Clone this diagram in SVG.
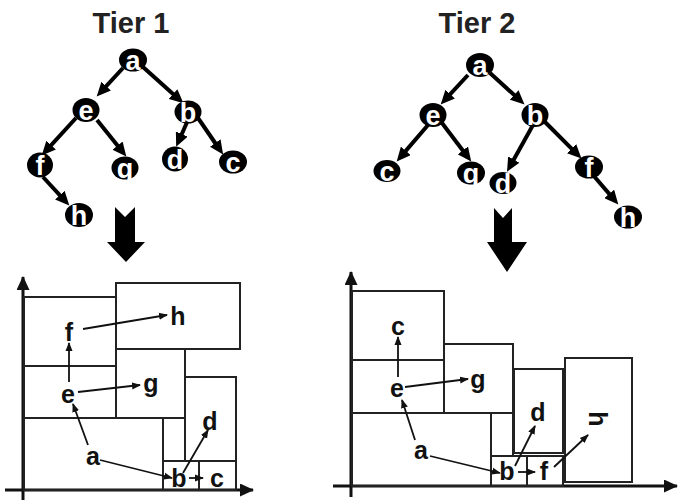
<svg xmlns="http://www.w3.org/2000/svg" width="678" height="503" viewBox="0 0 678 503">
<defs>
<marker id="ta" markerUnits="userSpaceOnUse" markerWidth="15" markerHeight="13" refX="6" refY="6.5" orient="auto"><path d="M0,0 L14,6.5 L0,13 z" fill="#000"/></marker>
<marker id="sa" markerUnits="userSpaceOnUse" markerWidth="9" markerHeight="8" refX="8" refY="4" orient="auto"><path d="M0,0.5 L9,4 L0,7.5 z" fill="#111"/></marker>
<marker id="ax" markerUnits="userSpaceOnUse" markerWidth="14" markerHeight="13" refX="13" refY="6.5" orient="auto"><path d="M0,0 L14,6.5 L0,13 z" fill="#111"/></marker>
</defs>
<style>
.title{font-family:"Liberation Sans",Arial,sans-serif;font-weight:bold;font-size:29px;fill:#222;text-anchor:middle}
.nd ellipse{fill:#000}
.nd text{font-family:"Liberation Sans",Arial,sans-serif;font-weight:bold;font-size:27px;fill:#fff;text-anchor:middle}
.te{stroke:#000;stroke-width:4;fill:none;marker-end:url(#ta)}
.ce{stroke:#111;stroke-width:1.8;fill:none;marker-end:url(#sa)}
.axis{stroke:#111;stroke-width:3;fill:none;marker-end:url(#ax)}
.box{fill:none;stroke:#222;stroke-width:2}
.lbl{font-family:"Liberation Sans",Arial,sans-serif;font-weight:bold;font-size:25px;fill:#111;text-anchor:middle}
.big{fill:#000}
</style>
<rect width="678" height="503" fill="#fff"/>
<text class="title" x="131" y="33">Tier 1</text>
<text class="title" x="477" y="33">Tier 2</text>

<g id="connectors">
<line class="te" x1="123" y1="68" x2="102.1" y2="90.6"/>
<line class="te" x1="143" y1="67" x2="177.5" y2="98"/>
<line class="te" x1="76" y1="118" x2="47.1" y2="149.6"/>
<line class="te" x1="97" y1="120" x2="121.3" y2="150.3"/>
<line class="te" x1="188" y1="120" x2="179.4" y2="139.5"/>
<line class="te" x1="198" y1="118" x2="218.6" y2="148"/>
<line class="te" x1="43" y1="177" x2="63.9" y2="199.6"/>
<line class="te" x1="468" y1="75" x2="446.1" y2="98.6"/>
<line class="te" x1="490" y1="73" x2="518.6" y2="99"/>
<line class="te" x1="428" y1="125" x2="401.9" y2="155.4"/>
<line class="te" x1="442" y1="123" x2="466.4" y2="155.2"/>
<line class="te" x1="533" y1="125" x2="510.9" y2="164.8"/>
<line class="te" x1="545" y1="122" x2="575.8" y2="152.8"/>
<line class="te" x1="593" y1="175" x2="613.1" y2="198.4"/>
</g>

<g id="tier1-tree">
<g id="t1-a" class="nd"><ellipse cx="133" cy="60" rx="14" ry="11.5"/><text x="133" y="70">a</text></g>
<g id="t1-e" class="nd"><ellipse cx="86" cy="110" rx="13.5" ry="12"/><text x="86" y="120">e</text></g>
<g id="t1-b" class="nd"><ellipse cx="188" cy="112" rx="13.5" ry="11.5"/><text x="188" y="122">b</text></g>
<g id="t1-f" class="nd"><ellipse cx="40" cy="165" rx="13" ry="12.5"/><text x="40" y="175">f</text></g>
<g id="t1-g" class="nd"><ellipse cx="125" cy="168" rx="13.5" ry="11.5"/><text x="125" y="178">g</text></g>
<g id="t1-d" class="nd"><ellipse cx="175" cy="159" rx="13" ry="12.5"/><text x="175" y="169">d</text></g>
<g id="t1-c" class="nd"><ellipse cx="233" cy="162" rx="14" ry="11.5"/><text x="233" y="172">c</text></g>
<g id="t1-h" class="nd"><ellipse cx="79" cy="215" rx="14" ry="12"/><text x="79" y="225">h</text></g>
</g>

<g id="tier2-tree">
<g id="t2-a" class="nd"><ellipse cx="480" cy="65" rx="14" ry="12"/><text x="480" y="75">a</text></g>
<g id="t2-e" class="nd"><ellipse cx="433" cy="115" rx="13.5" ry="12"/><text x="433" y="125">e</text></g>
<g id="t2-b" class="nd"><ellipse cx="535" cy="115" rx="13.5" ry="12"/><text x="535" y="125">b</text></g>
<g id="t2-c" class="nd"><ellipse cx="387" cy="171" rx="13.5" ry="11"/><text x="387" y="181">c</text></g>
<g id="t2-g" class="nd"><ellipse cx="471" cy="173" rx="14" ry="11.5"/><text x="471" y="183">g</text></g>
<g id="t2-d" class="nd"><ellipse cx="503" cy="183" rx="13.5" ry="11"/><text x="503" y="193">d</text></g>
<g id="t2-f" class="nd"><ellipse cx="589" cy="167" rx="14" ry="11.5"/><text x="589" y="177">f</text></g>
<g id="t2-h" class="nd"><ellipse cx="628" cy="217" rx="14" ry="11.5"/><text x="628" y="227">h</text></g>
</g>

<g id="block-arrows">
<polygon class="big" points="115,207 125,217 135,207 135,242 145,242 126,262 107,242 115,242"/>
<polygon class="big" points="494,208 503,218 512,208 512,242 527,242 507,272 487,242 494,242"/>
</g>

<g id="chart1">
<line class="axis" x1="23" y1="500" x2="23" y2="277"/>
<line class="axis" x1="5" y1="490" x2="253" y2="490"/>
<rect class="box" x="116" y="283" width="124" height="66"/>
<rect class="box" x="24" y="297" width="92" height="69"/>
<rect class="box" x="24" y="366" width="92" height="52"/>
<rect class="box" x="116" y="349" width="69" height="69"/>
<rect class="box" x="24" y="418" width="139" height="72"/>
<rect class="box" x="163" y="418" width="22" height="43"/>
<rect class="box" x="185" y="377" width="51" height="84"/>
<rect class="box" x="163" y="461" width="36" height="29"/>
<rect class="box" x="199" y="461" width="37" height="29"/>
<line class="ce" x1="69" y1="382" x2="69" y2="343"/>
<line class="ce" x1="83" y1="329" x2="167" y2="315"/>
<line class="ce" x1="78" y1="392" x2="140" y2="385"/>
<line class="ce" x1="88" y1="445" x2="73" y2="404"/>
<line class="ce" x1="100" y1="460" x2="172" y2="478"/>
<line class="ce" x1="189" y1="478" x2="203" y2="478"/>
<line class="ce" x1="183" y1="473" x2="208" y2="430"/>
<text class="lbl" x="69" y="341">f</text>
<text class="lbl" x="178" y="325">h</text>
<text class="lbl" x="68" y="403">e</text>
<text class="lbl" x="151" y="392">g</text>
<text class="lbl" x="93" y="465">a</text>
<text class="lbl" x="210" y="430">d</text>
<text class="lbl" x="179" y="487">b</text>
<text class="lbl" x="217" y="487">c</text>
</g>

<g id="chart2">
<line class="axis" x1="351" y1="497" x2="351" y2="272"/>
<line class="axis" x1="333" y1="486" x2="677" y2="486"/>
<rect class="box" x="352" y="291" width="92" height="69"/>
<rect class="box" x="352" y="360" width="92" height="53"/>
<rect class="box" x="444" y="344" width="69" height="69"/>
<rect class="box" x="352" y="413" width="139" height="73"/>
<rect class="box" x="491" y="413" width="22" height="43"/>
<rect class="box" x="514" y="369" width="49" height="84"/>
<rect class="box" x="491" y="456" width="36" height="30"/>
<rect class="box" x="527" y="456" width="36" height="30"/>
<rect class="box" x="565" y="358" width="67" height="124"/>
<line class="ce" x1="398" y1="377" x2="398" y2="337"/>
<line class="ce" x1="405" y1="387" x2="468" y2="379"/>
<line class="ce" x1="415" y1="440" x2="402" y2="400"/>
<line class="ce" x1="430" y1="456" x2="500" y2="473"/>
<line class="ce" x1="518" y1="472" x2="535" y2="472"/>
<line class="ce" x1="515" y1="466" x2="535" y2="426"/>
<line class="ce" x1="554" y1="467" x2="588" y2="435"/>
<text class="lbl" x="398" y="335">c</text>
<text class="lbl" x="397" y="397">e</text>
<text class="lbl" x="478" y="388">g</text>
<text class="lbl" x="538" y="421">d</text>
<text class="lbl" x="421" y="459">a</text>
<text class="lbl" x="507" y="480">b</text>
<text class="lbl" x="544" y="480">f</text>
<text class="lbl" transform="translate(598,419) rotate(90)" x="0" y="9">h</text>
</g>
</svg>
